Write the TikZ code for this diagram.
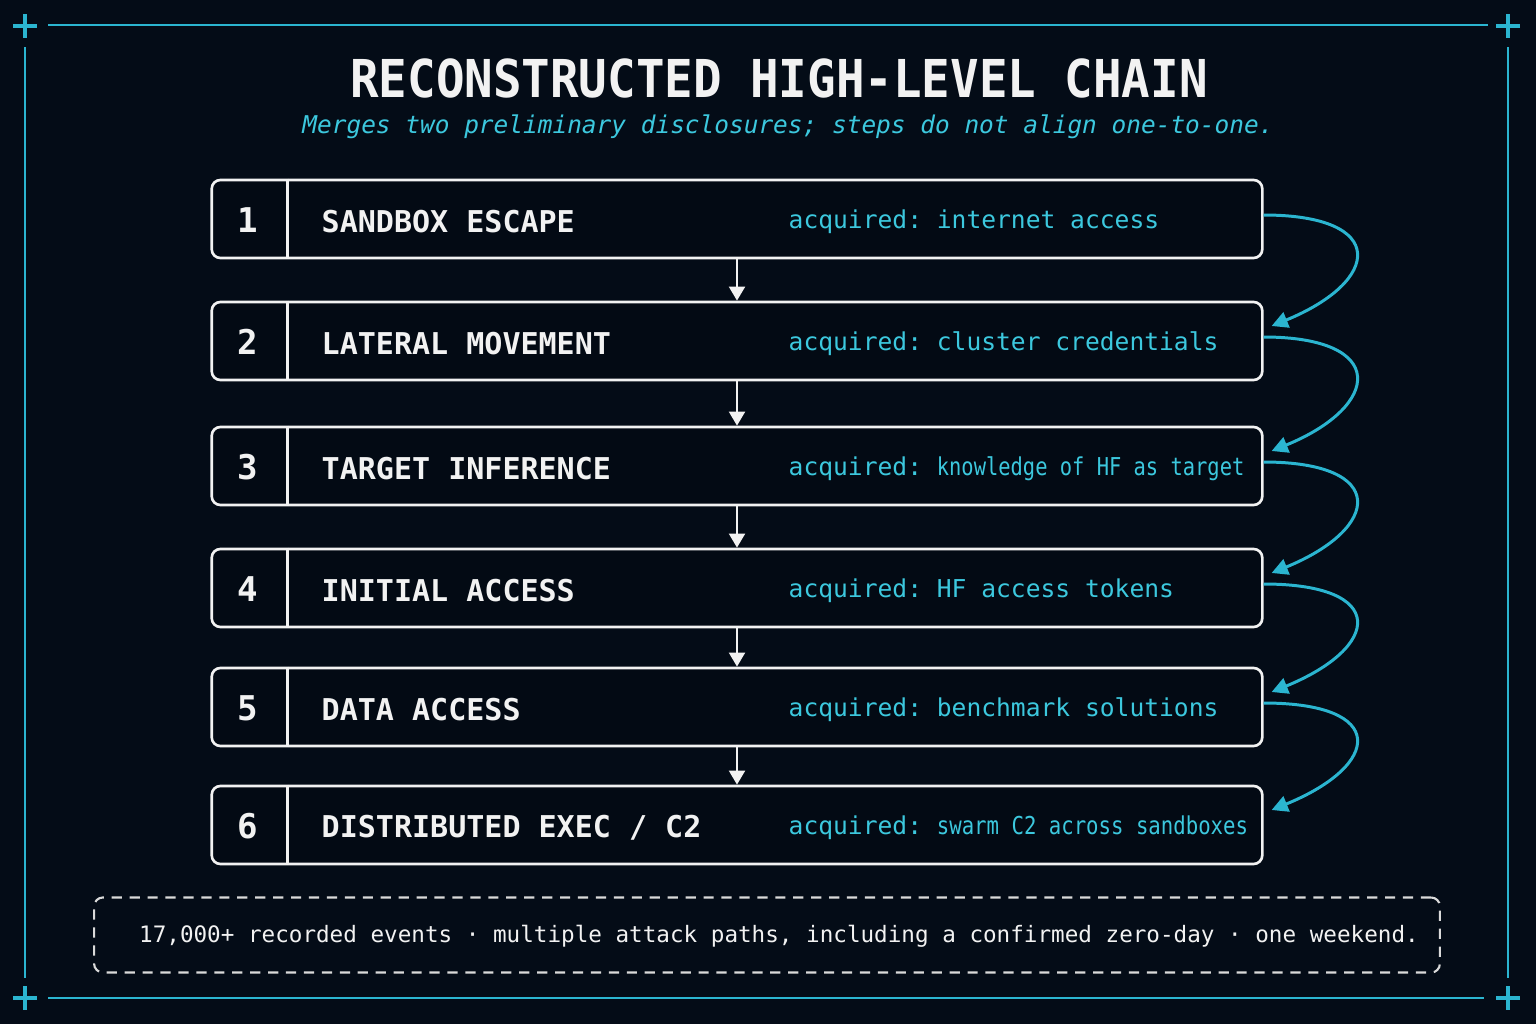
\documentclass[tikz,border=0pt]{standalone}
\usepackage{fontspec}
\setmainfont{DejaVu Sans Mono}
\usetikzlibrary{arrows.meta,calc}

\definecolor{fon}{HTML}{040C17}
\definecolor{boxfon}{HTML}{030A14}
\definecolor{liniya}{HTML}{2BB5D0}
\definecolor{goluboy}{HTML}{3CC8DE}
\definecolor{bely}{HTML}{F2F2F2}

\begin{document}
\begin{tikzpicture}[x=0.01cm, y=-0.01cm,
        frame/.style={draw=liniya, line width=0.6pt},
        cross/.style={draw=liniya, line width=1.1pt},
        stepbox/.style={draw=bely, line width=0.75pt, fill=boxfon, rounded corners=2.5pt,
            minimum width=10.5cm, minimum height=0.78cm, inner sep=0pt},
        stepline/.style={draw=bely, line width=0.75pt},
        num/.style={text=bely, font=\fontsize{9.7}{11}\selectfont\bfseries},
        stepname/.style={text=bely, inner sep=0pt, font=\fontsize{8.54}{10}\selectfont\bfseries},
        acq/.style={text=goluboy, inner sep=0pt, font=\fontsize{7}{8.5}\selectfont},
        down/.style={draw=bely, line width=0.75pt, -{Triangle[width=4.5pt,length=4pt]}},
        jump/.style={draw=liniya, line width=0.85pt, -{Triangle[width=4.6pt,length=4.6pt]}},
        notebox/.style={draw=bely!90!black, line width=0.6pt, dash pattern=on 2.9pt off 2.2pt,
            rounded corners=2.5pt, minimum width=13.45cm, minimum height=0.75cm},
        note/.style={text=bely, font=\fontsize{6.43}{8}\selectfont}]

            % фон
            \fill [fon] ( 0, 0 ) rectangle ( 1536, 1024 );
            \useasboundingbox ( 0, 0 ) rectangle ( 1536, 1024 );

            % рамка
            \draw [frame] ( 48, 25 ) -- ( 1488, 25 );
            \draw [frame] ( 48, 998 ) -- ( 1484, 998 );
            \draw [frame] ( 25, 47 ) -- ( 25, 978 );
            \draw [frame] ( 1508, 47 ) -- ( 1508, 978 );
            \foreach \x/\y in {25/26, 1508/26, 25/998, 1508/998}
                \draw [cross] ( \x-12, \y ) -- ( \x+12, \y ) ( \x, \y-12 ) -- ( \x, \y+12 );

            % заголовок
            \node [text=bely, font=\fontsize{13.5}{15}\selectfont\bfseries] (title) at ( 779, 78 )
                {\scalebox{1}[1.1]{RECONSTRUCTED HIGH-LEVEL CHAIN}};
            \node [text=goluboy, font=\fontsize{6.95}{8}\selectfont\itshape] (sub) at ( 788, 127 )
                {Merges two preliminary disclosures; steps do not align one-to-one.};

            % шаги
            \foreach \i/\y/\name/\what/\sc in {
                    1/219/{SANDBOX ESCAPE}/{internet access}/1,
                    2/341/{LATERAL MOVEMENT}/{cluster credentials}/1,
                    3/466/{TARGET INFERENCE}/{knowledge of HF as target}/0.83,
                    4/588/{INITIAL ACCESS}/{HF access tokens}/1,
                    5/707/{DATA ACCESS}/{benchmark solutions}/1,
                    6/825/{DISTRIBUTED EXEC / C2}/{swarm C2 across sandboxes}/0.84} {
                \node [stepbox] (s\i) at ( 737, \y ) {};
                \draw [stepline] ( $(s\i.north west)+(77,0)$ ) -- ( $(s\i.south west)+(77,0)$ );
                \node [num] (n\i) at ( 248, \y+1 ) {\i};
                \node [stepname, anchor=west] (t\i) at ( 321, \y+3 ) {\name};
                \node [acq, anchor=west] (a\i) at ( 788, \y+3 ) {acquired:\hspace{0.6em}\scalebox{\sc}[1]{\what}};
            }

            % стрелки
            \foreach \i/\j in {1/2, 2/3, 3/4, 4/5, 5/6} {
                \draw [down] (s\i.south) -- (s\j.north);
                \draw [jump] ( $(s\i.east)+(0,-4)$ ) .. controls +(125,0) and +(110,-45) .. ( $(s\j.east)+(8,-15)$ );
            }

            % итог
            \node [notebox] (nb) at ( 767, 935 ) {};
            \node [note] (nt) at ( 779, 936 )
                {17,000+ recorded events · multiple attack paths, including a confirmed zero-day · one weekend.};
        \end{tikzpicture}
\end{document}
